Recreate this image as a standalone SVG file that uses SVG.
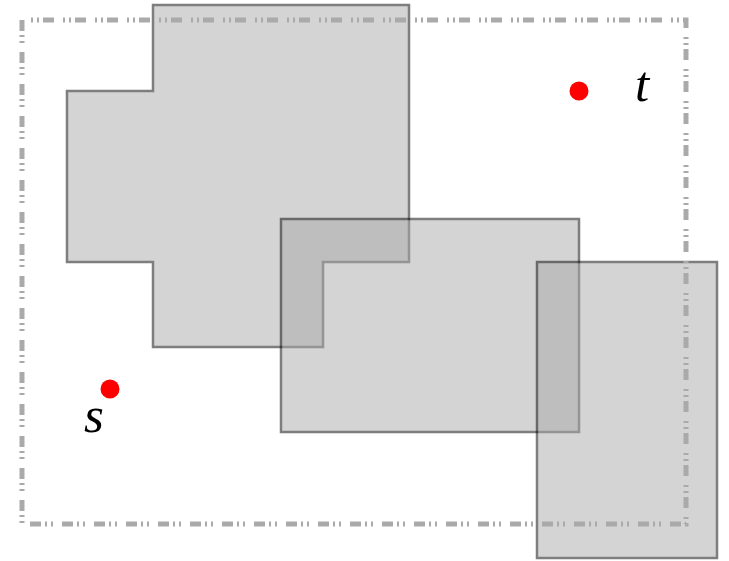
<svg xmlns="http://www.w3.org/2000/svg" width="729" height="561" viewBox="0 0 729 561">
<style>
.obs{fill:#aaaaaa;stroke:#000;stroke-width:2.5;opacity:0.5;stroke-linejoin:miter}
.bound{fill:none;stroke:#aaaaaa;stroke-width:5;stroke-dasharray:11 4 2 4 2 9}
.pt{fill:#ff0000}
.lbl{font-family:"Liberation Serif",serif;font-style:italic;font-size:51px;fill:#000}
</style>
<rect width="729" height="561" fill="#fff"/>
<g id="obstacle1"><polygon class="obs" points="153,5 409,5 409,262 323,262 323,347 153,347 153,262 67,262 67,91 153,91"/></g>
<g id="obstacle2"><rect class="obs" x="281" y="219" width="298" height="213"/></g>
<g id="obstacle3"><rect class="obs" x="537" y="262" width="180" height="296"/></g>
<g id="boundary"><path class="bound" d="M22,20 V524 H686 V20 Z"/></g>
<g id="s"><circle class="pt" cx="110" cy="389" r="9.5"/><text class="lbl" x="84" y="432">s</text></g>
<g id="t"><circle class="pt" cx="579" cy="91" r="9.5"/><text class="lbl" x="635" y="101">t</text></g>
<g id="connectors"/>
</svg>
